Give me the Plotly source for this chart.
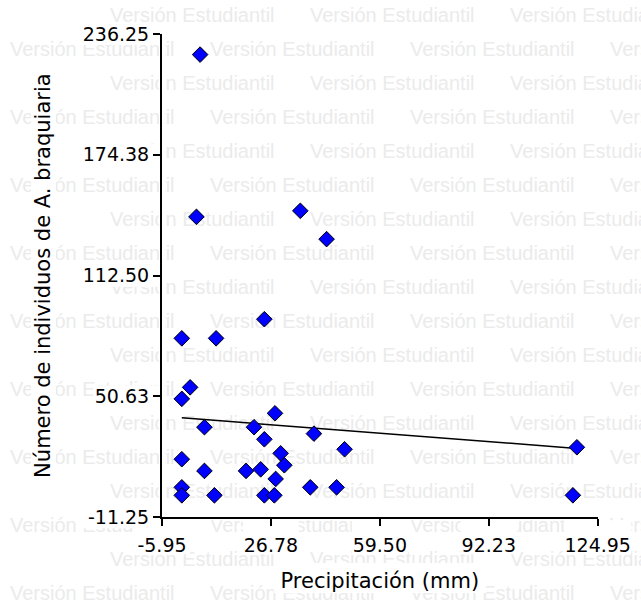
import numpy as np
import plotly.graph_objects as go

# ---- data ----
precip_mm = [5.5, 4.4, 35.6, 43.5, 0, 10.3, 24.8, 2.5, 0, 28.0, 6.8, 21.7, 24.8, 39.7,
             48.9, 0, 29.7, 30.8, 6.8, 19.3, 23.7, 28.2, 0, 0, 9.8, 24.8, 27.8, 38.6,
             46.5, 118.7, 117.5]
n_braquiaria = [225.7, 142.6, 145.7, 131.2, 80.4, 80.4, 90.2, 55.3, 49.4, 42.0, 34.9,
                34.9, 28.7, 31.6, 23.6, 18.5, 21.5, 15.4, 12.5, 12.5, 13.3, 8.4, 4.1,
                0, 0, 0, 0, 4.1, 4.1, 24.6, 0]
fit_intercept = 39.7
fit_slope = -0.132

x_tickvals = [-5.95, 26.775, 59.5, 92.225, 124.95]
x_ticktext = ["-5.95", "26.78", "59.50", "92.23", "124.95"]
y_tickvals = [-11.25, 50.625, 112.5, 174.375, 236.25]
y_ticktext = ["-11.25", "50.63", "112.50", "174.38", "236.25"]
watermark_text = "Versión Estudiantil"

W, H = 641, 610
FONT = "DejaVu Sans"
XR = [-5.95, 124.95]
YR = [-11.25, 236.25]
PL, PR, PT, PB = 162, 597.7, 34, 517.3   # plot area in page pixels


def px(v):
    return PL + (v - XR[0]) / (XR[1] - XR[0]) * (PR - PL)


def py(v):
    return PB - (v - YR[0]) / (YR[1] - YR[0]) * (PB - PT)


fig = go.Figure()

# ---- watermark on a full-page hidden axis (drawn first, below everything) ----
wx, wy = [], []
for r in range(19):
    yc = 17 + 34 * r
    start = -90 if r % 2 == 0 else 10
    for c in range(5):
        wx.append(start + 200 * c)
        wy.append(yc)
fig.add_trace(go.Scatter(
    x=wx, y=wy, mode="text", text=[watermark_text] * len(wx),
    textposition="middle right",
    textfont=dict(family="Liberation Sans", size=20, color="#ebebeb"),
    hoverinfo="skip", showlegend=False, xaxis="x", yaxis="y", cliponaxis=False))

# white boxes behind labels (the watermark is hidden behind label backgrounds)
mx, my = [], []


def box(a, b, c, d):
    mx.extend([a, b, b, a, a, None])
    my.extend([c, c, d, d, c, None])


for v, t in zip(y_tickvals, y_ticktext):
    yy = py(v)
    box(148 - 11 * len(t), PL + 3, yy - 11, yy + 11)
for v, t in zip(x_tickvals, x_ticktext):
    xx = px(v)
    box(xx - 5.6 * len(t), xx + 5.6 * len(t), PB + 3, PB + 37)
box(PL - 3, PL + 3, PT - 2, PB)
box(PL, PR + 2, PB - 3, PB + 3)
box(31, 56, 62, 482)
box(274, 486, 563, 593)
fig.add_trace(go.Scatter(
    x=mx, y=my, mode="lines", fill="toself", fillcolor="white",
    line=dict(width=0, color="white"), hoverinfo="skip", showlegend=False,
    xaxis="x", yaxis="y"))

# ---- data ----
xfit = np.array([min(precip_mm), max(precip_mm)])
yfit = fit_intercept + fit_slope * xfit
fig.add_trace(go.Scatter(
    x=xfit, y=yfit, mode="lines", line=dict(color="black", width=1.5),
    showlegend=False, xaxis="x2", yaxis="y2", hoverinfo="skip"))
fig.add_trace(go.Scatter(
    x=precip_mm, y=n_braquiaria, mode="markers",
    marker=dict(symbol="diamond", size=12, color="#0000ff",
                line=dict(color="black", width=1)),
    showlegend=False, xaxis="x2", yaxis="y2", cliponaxis=False))

x0, x1 = PL / W, PR / W
y0, y1 = 1 - PB / H, 1 - PT / H

axis_common = dict(showgrid=False, zeroline=False, showline=True, linecolor="black",
                   linewidth=2, ticks="outside", ticklen=7, tickwidth=2,
                   tickcolor="black", tickfont=dict(family=FONT, size=19, color="black"),
                   automargin=False, mirror=False)

fig.update_layout(
    width=W, height=H,
    margin=dict(l=0, r=0, t=0, b=0),
    paper_bgcolor="white", plot_bgcolor="rgba(0,0,0,0)",
    xaxis=dict(domain=[0, 1], range=[0, W], visible=False, fixedrange=True),
    yaxis=dict(domain=[0, 1], range=[H, 0], visible=False, fixedrange=True),
    xaxis2=dict(domain=[x0, x1], range=XR, anchor="y2",
                tickmode="array", tickvals=x_tickvals, ticktext=x_ticktext,
                ticklabelstandoff=3,
                title=dict(text="Precipitación (mm)",
                           font=dict(family=FONT, size=21, color="black"), standoff=18),
                **axis_common),
    yaxis2=dict(domain=[y0, y1], range=YR, anchor="x2",
                tickmode="array", tickvals=y_tickvals, ticktext=y_ticktext,
                title=dict(text="Número de individuos de A. braquiaria",
                           font=dict(family=FONT, size=21, color="black"), standoff=26),
                **axis_common),
)

fig.write_html("out.html")
